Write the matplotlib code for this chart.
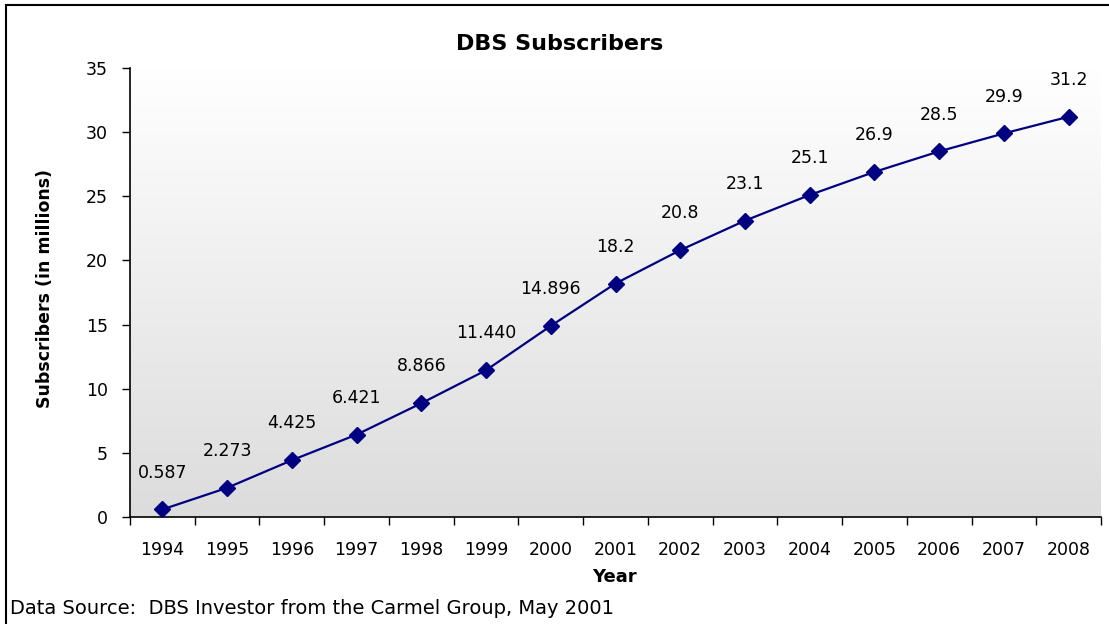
import matplotlib.pyplot as plt
import numpy as np
from matplotlib.patches import Rectangle
from matplotlib.colors import LinearSegmentedColormap

years = ['1994', '1995', '1996', '1997', '1998', '1999', '2000', '2001',
         '2002', '2003', '2004', '2005', '2006', '2007', '2008']
subscribers = [0.587, 2.273, 4.425, 6.421, 8.866, 11.440, 14.896, 18.2,
               20.8, 23.1, 25.1, 26.9, 28.5, 29.9, 31.2]
point_labels = ['0.587', '2.273', '4.425', '6.421', '8.866', '11.440', '14.896', '18.2',
                '20.8', '23.1', '25.1', '26.9', '28.5', '29.9', '31.2']

plt.rcParams['font.family'] = 'DejaVu Sans'

fig = plt.figure(figsize=(11.09, 6.24), dpi=100)
ax = fig.add_axes([130 / 1109, 107 / 624, 971 / 1109, 449 / 624])

# gradient fill of the plot area: white at top, light gray at bottom
bg = LinearSegmentedColormap.from_list('bg', ['#ffffff', '#dcdcdc'])
grad = np.linspace(0.0, 1.0, 256).reshape(-1, 1)
ax.imshow(grad, extent=[0, 1, 0, 1], transform=ax.transAxes, cmap=bg,
          aspect='auto', zorder=0)

x = np.arange(len(years))
ax.plot(x, subscribers, color='#000080', lw=1.6, marker='D', markersize=8, zorder=3)
for xi, yi, lab in zip(x, subscribers, point_labels):
    ax.annotate(lab, (xi, yi), xytext=(0, 20), textcoords='offset points',
                ha='center', va='bottom', fontsize=12.5, color='black')

ax.set_xlim(-0.5, len(years) - 0.5)
ax.set_ylim(0, 35)
ax.set_yticks(range(0, 36, 5))
ax.set_xticks(np.arange(-0.5, len(years), 1.0))
ax.set_xticklabels([])
ax.set_xticks(x, minor=True)
ax.set_xticklabels(years, minor=True)
ax.tick_params(axis='x', which='major', direction='out', length=6, width=1)
ax.tick_params(axis='x', which='minor', length=0, pad=17, labelsize=12.5)
ax.tick_params(axis='y', direction='out', length=6, width=1, pad=10, labelsize=12.5)

for s in ['top', 'right']:
    ax.spines[s].set_visible(False)
for s in ['left', 'bottom']:
    ax.spines[s].set_linewidth(1.2)

fig.text(560 / 1109, 1 - 44 / 624, 'DBS Subscribers', ha='center', va='center',
         fontsize=16, fontweight='bold')
fig.text(45 / 1109, 1 - 289 / 624, 'Subscribers (in millions)', ha='center', va='center',
         rotation=90, fontsize=12.5, fontweight='bold')
fig.text(614 / 1109, 1 - 577 / 624, 'Year', ha='center', va='center',
         fontsize=13, fontweight='bold')
fig.text(10 / 1109, 1 - 609 / 624, 'Data Source:  DBS Investor from the Carmel Group, May 2001',
         ha='left', va='center', fontsize=14)

# outer border
fig.patches.append(Rectangle((6 / 1109, -0.1), 1.2, 1.1 - 5 / 624, transform=fig.transFigure,
                             fill=False, edgecolor='black', lw=1.5))

fig.savefig('out.png', dpi=100)
